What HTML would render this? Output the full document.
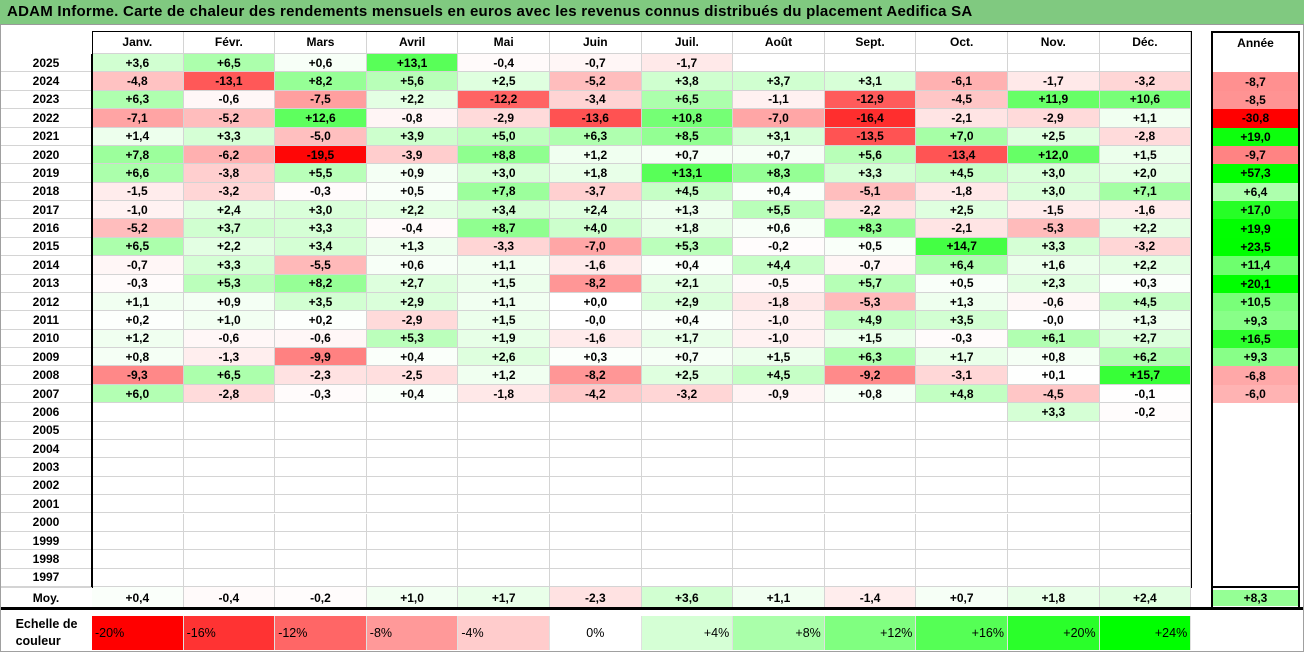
<!DOCTYPE html>
<html><head><meta charset="utf-8">
<style>
body{margin:0;background:#fff;font-family:"Liberation Sans",sans-serif;}
#root{position:relative;width:1304px;height:652px;overflow:hidden;background:#fff;}
.c{position:absolute;box-sizing:border-box;font-size:12px;font-weight:bold;color:#000;display:flex;align-items:center;justify-content:center;}
</style></head><body>
<div id="root">
<div style="position:absolute;left:0;top:0;width:1304px;height:25px;background:#80c980;border-bottom:1px solid #9a9a9a;box-sizing:border-box;font-weight:bold;font-size:15px;letter-spacing:0.25px;line-height:24px;padding-left:7px;white-space:nowrap;">ADAM Informe. Carte de chaleur des rendements mensuels en euros avec les revenus connus distribués du placement Aedifica SA</div>
</div>
<script>
const months=["Janv.","Févr.","Mars","Avril","Mai","Juin","Juil.","Août","Sept.","Oct.","Nov.","Déc."];
const years=[2025,2024,2023,2022,2021,2020,2019,2018,2017,2016,2015,2014,2013,2012,2011,2010,2009,2008,2007,2006,2005,2004,2003,2002,2001,2000,1999,1998,1997];
const N=null;
const monthly=[
[3.6,6.5,0.6,13.1,-0.4,-0.7,-1.7,N,N,N,N,N],
[-4.8,-13.1,8.2,5.6,2.5,-5.2,3.8,3.7,3.1,-6.1,-1.7,-3.2],
[6.3,-0.6,-7.5,2.2,-12.2,-3.4,6.5,-1.1,-12.9,-4.5,11.9,10.6],
[-7.1,-5.2,12.6,-0.8,-2.9,-13.6,10.8,-7.0,-16.4,-2.1,-2.9,1.1],
[1.4,3.3,-5.0,3.9,5.0,6.3,8.5,3.1,-13.5,7.0,2.5,-2.8],
[7.8,-6.2,-19.5,-3.9,8.8,1.2,0.7,0.7,5.6,-13.4,12.0,1.5],
[6.6,-3.8,5.5,0.9,3.0,1.8,13.1,8.3,3.3,4.5,3.0,2.0],
[-1.5,-3.2,-0.3,0.5,7.8,-3.7,4.5,0.4,-5.1,-1.8,3.0,7.1],
[-1.0,2.4,3.0,2.2,3.4,2.4,1.3,5.5,-2.2,2.5,-1.5,-1.6],
[-5.2,3.7,3.3,-0.4,8.7,4.0,1.8,0.6,8.3,-2.1,-5.3,2.2],
[6.5,2.2,3.4,1.3,-3.3,-7.0,5.3,-0.2,0.5,14.7,3.3,-3.2],
[-0.7,3.3,-5.5,0.6,1.1,-1.6,0.4,4.4,-0.7,6.4,1.6,2.2],
[-0.3,5.3,8.2,2.7,1.5,-8.2,2.1,-0.5,5.7,0.5,2.3,0.3],
[1.1,0.9,3.5,2.9,1.1,0.0,2.9,-1.8,-5.3,1.3,-0.6,4.5],
[0.2,1.0,0.2,-2.9,1.5,-0.0,0.4,-1.0,4.9,3.5,-0.0,1.3],
[1.2,-0.6,-0.6,5.3,1.9,-1.6,1.7,-1.0,1.5,-0.3,6.1,2.7],
[0.8,-1.3,-9.9,0.4,2.6,0.3,0.7,1.5,6.3,1.7,0.8,6.2],
[-9.3,6.5,-2.3,-2.5,1.2,-8.2,2.5,4.5,-9.2,-3.1,0.1,15.7],
[6.0,-2.8,-0.3,0.4,-1.8,-4.2,-3.2,-0.9,0.8,4.8,-4.5,-0.1],
[N,N,N,N,N,N,N,N,N,N,3.3,-0.2]
];
const annual=[N,-8.7,-8.5,-30.8,19.0,-9.7,57.3,6.4,17.0,19.9,23.5,11.4,20.1,10.5,9.3,16.5,9.3,-6.8,-6.0,N];
const averages=[0.4,-0.4,-0.2,1.0,1.7,-2.3,3.6,1.1,-1.4,0.7,1.8,2.4];
const averageAnnual=8.3;
const scaleSteps=[-20,-16,-12,-8,-4,0,4,8,12,16,20,24];

const root=document.getElementById('root');
const X0=92,CW=91.6,Y0=54,RH=18.38,AX=1211,AW=89;
function color(v){
  if(v===null)return '#fff';
  const t=Math.min(1,Math.abs(v)/20);const k=Math.round(255*(1-t));
  return v<0?`rgb(255,${k},${k})`:`rgb(${k},255,${k})`;
}
function fmt(v){
  if(v===null)return '';
  const neg=v<0||Object.is(v,-0);
  return (neg?'-':'+')+Math.abs(v).toFixed(1).replace('.',',');
}
function cell(x,y,w,h,txt,bg,extra){
  const d=document.createElement('div');d.className='c';
  d.style.cssText+=`left:${x}px;top:${y}px;width:${w}px;height:${h}px;background:${bg};`+(extra||'');
  d.textContent=txt;root.appendChild(d);return d;
}
const grid='border-right:1px solid #d4d4d4;border-bottom:1px solid #d4d4d4;';
months.forEach((m,i)=>{
  const d=cell(X0+i*CW,31,CW,23,m,'#fff',grid);
  
  
});
{const d=cell(AX,31,AW,23,'Année','#fff','');

}
years.forEach((y,r)=>{
  const top=Y0+r*RH;
  const d=cell(0,top,X0,RH,String(y),'#fff','border-bottom:1px solid #d4d4d4;');
  
  
  const vals=monthly[r]||new Array(12).fill(null);
  vals.forEach((v,i)=>{
    const c=cell(X0+i*CW,top,CW,RH,fmt(v),color(v),grid);
    
    
  });
  const av=r<annual.length?annual[r]:null;
  const a=cell(AX+2,top,AW-4,RH,fmt(av),color(av),'');
  
  
});
const myTop=Y0+years.length*RH;
{const d=cell(0,myTop,X0,608-myTop,'Moy.','#fff','border-top:1px solid #d4d4d4;');

}
averages.forEach((v,i)=>{
  const c=cell(X0+i*CW,myTop,CW,608-myTop,fmt(v),color(v),'border-right:1px solid #d4d4d4;');
  
  
});
{const a=cell(AX+2,myTop+3,AW-4,608-myTop-5,fmt(averageAnnual),color(averageAnnual),'');

}
function frame(x,y,w,h,b,name){
  const d=document.createElement('div');
  d.style.cssText=`position:absolute;left:${x}px;top:${y}px;width:${w}px;height:${h}px;box-sizing:border-box;${b}`;
  
  
  root.appendChild(d);
}
frame(X0,31,CW*12+1,myTop-31+1,'border:1.5px solid #000;border-bottom:none;','month-frame');
frame(X0-1,Y0,1.5,myTop-Y0,'background:#000;','year-divider');
frame(0,607,1304,2.5,'background:#000;','average-divider');
frame(0,25,1,627,'background:#a0a0a0;','left-border');
frame(1303,25,1,627,'background:#a0a0a0;','right-border');
frame(0,651,1304,1,'background:#a0a0a0;','bottom-border');
frame(AX,31,AW,myTop-31+1,'border:2px solid #000;','annual-frame');
frame(AX,myTop+1,AW,608-myTop,'border-left:2px solid #000;border-right:2px solid #000;','annual-average-frame');
{const d=cell(1,615,X0-1,36,'','#fff','flex-direction:column;line-height:17px;font-size:12.5px;');
d.innerHTML='Echelle de<br>couleur';

}
scaleSteps.forEach((s,i)=>{
  const t=Math.min(1,Math.abs(s)/(s>0?24:20));const k=Math.round(255*(1-t));
  const bg=s<0?`rgb(255,${k},${k})`:`rgb(${k},255,${k})`;
  const just=s<0?'flex-start':(s===0?'center':'flex-end');
  const c=cell(X0+i*CW,616,CW,34,(s>0?'+':'')+s+'%',bg,`justify-content:${just};padding:0 3px;font-weight:normal;font-size:12.5px;border-right:1px solid #e0e0e0;`);
  
  
});
</script>
</body></html>
